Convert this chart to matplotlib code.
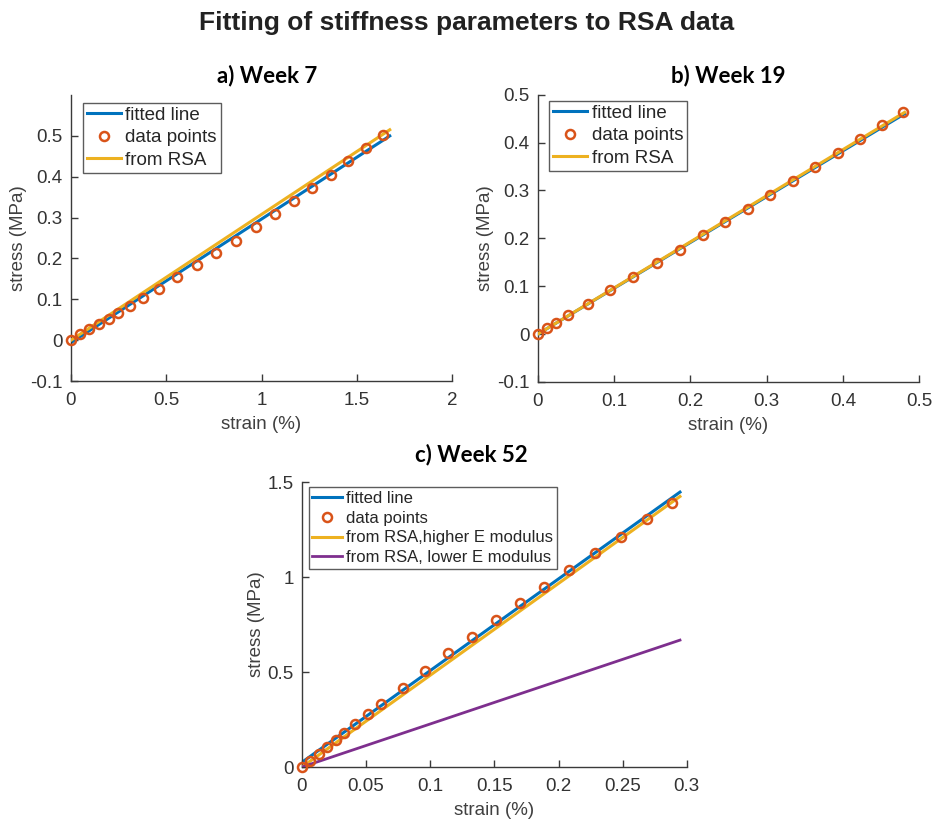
import matplotlib
matplotlib.use('Agg')
import matplotlib.pyplot as plt

# MATLAB default colours
BLUE = '#0072BD'
ORANGE = '#D95319'
YELLOW = '#EDB120'
PURPLE = '#7E2F8E'
AX_GRAY = '#3a3a3a'

# ---- a) Week 7 ----
strain_a = [0, 0.047, 0.096, 0.147, 0.199, 0.245, 0.311, 0.379, 0.462, 0.559,
            0.659, 0.759, 0.865, 0.970, 1.070, 1.170, 1.267, 1.364, 1.456,
            1.549, 1.640]
stress_a = [0, 0.015, 0.028, 0.040, 0.053, 0.066, 0.083, 0.103, 0.125, 0.154,
            0.183, 0.213, 0.244, 0.278, 0.309, 0.341, 0.373, 0.405, 0.438,
            0.470, 0.502]
fit_x_a = [0, 1.673]
fit_y_a = [-0.006, 0.500]
rsa_x_a = [0, 1.673]
rsa_y_a = [0, 0.515]

# ---- b) Week 19 ----
strain_b = [0, 0.0114, 0.024, 0.040, 0.065, 0.095, 0.125, 0.156, 0.186, 0.216,
            0.245, 0.275, 0.304, 0.334, 0.364, 0.393, 0.423, 0.452, 0.479]
stress_b = [0, 0.013, 0.024, 0.039, 0.062, 0.091, 0.119, 0.148, 0.176, 0.206,
            0.233, 0.262, 0.291, 0.320, 0.349, 0.378, 0.407, 0.436, 0.463]
fit_x_b = [0, 0.481]
fit_y_b = [0, 0.460]
rsa_x_b = [0, 0.481]
rsa_y_b = [0, 0.463]

# ---- c) Week 52 ----
strain_c = [0, 0.0062, 0.013, 0.0195, 0.0263, 0.0328, 0.0416, 0.0515, 0.0619,
            0.0786, 0.0962, 0.1142, 0.1327, 0.1509, 0.170, 0.189, 0.2084,
            0.2284, 0.2487, 0.2687, 0.2888]
stress_c = [0, 0.033, 0.067, 0.107, 0.144, 0.177, 0.228, 0.280, 0.333, 0.418,
            0.508, 0.599, 0.683, 0.772, 0.861, 0.950, 1.038, 1.127, 1.213,
            1.304, 1.391]
fit_x_c = [0, 0.2947]
fit_y_c = [0.025, 1.447]
rsa_hi_x_c = [0, 0.2947]
rsa_hi_y_c = [0, 1.424]
rsa_lo_x_c = [0, 0.2947]
rsa_lo_y_c = [0, 0.668]

xticks_a = [0, 0.5, 1, 1.5, 2]
xticklabels_a = ['0', '0.5', '1', '1.5', '2']
xticks_b = [0, 0.1, 0.2, 0.3, 0.4, 0.5]
xticklabels_b = ['0', '0.1', '0.2', '0.3', '0.4', '0.5']
xticks_c = [0, 0.05, 0.1, 0.15, 0.2, 0.25, 0.3]
xticklabels_c = ['0', '0.05', '0.1', '0.15', '0.2', '0.25', '0.3']
yticks_ab = [-0.1, 0, 0.1, 0.2, 0.3, 0.4, 0.5]
yticklabels_ab = ['-0.1', '0', '0.1', '0.2', '0.3', '0.4', '0.5']
yticks_c = [0, 0.5, 1, 1.5]
yticklabels_c = ['0', '0.5', '1', '1.5']

plt.rcParams['font.family'] = ['Liberation Sans', 'DejaVu Sans']
plt.rcParams['axes.unicode_minus'] = False


def style_axes(ax, xticks, xlabels, yticks, ylabels):
    ax.spines['top'].set_visible(False)
    ax.spines['right'].set_visible(False)
    for s in ('left', 'bottom'):
        ax.spines[s].set_color(AX_GRAY)
        ax.spines[s].set_linewidth(1.0)
    ax.set_xticks(xticks)
    ax.set_xticklabels(xlabels)
    ax.set_yticks(yticks)
    ax.set_yticklabels(ylabels)
    ax.tick_params(direction='in', length=5, width=1.0, colors=AX_GRAY,
                   labelsize=13.5, labelcolor='#333333')
    ax.tick_params(axis='x', pad=8)
    ax.tick_params(axis='y', pad=6)
    ax.set_xlabel('strain (%)', fontsize=13.5, color='#404040', labelpad=5)
    ax.set_ylabel('stress (MPa)', fontsize=13.5, color='#404040', labelpad=2)


def add_legend(ax, anchor, size):
    leg = ax.legend(loc='upper left', bbox_to_anchor=anchor, fontsize=size,
                    frameon=True, fancybox=False, edgecolor='#333333',
                    handlelength=1.8, handletextpad=0.25, borderpad=0.22,
                    labelspacing=0.28, borderaxespad=0)
    leg.get_frame().set_linewidth(1.0)
    for t in leg.get_texts():
        t.set_color('#262626')


marker_kw = dict(linestyle='none', marker='o', markersize=6.5,
                 markerfacecolor='none', markeredgecolor=ORANGE,
                 markeredgewidth=1.8, clip_on=False, zorder=4)
title_kw = dict(fontsize=16, fontweight='bold', family=['Lato', 'DejaVu Sans'])

fig = plt.figure(figsize=(9.34, 8.23), dpi=100)
fig.text(0.5, 0.972, 'Fitting of stiffness parameters to RSA data',
         ha='center', va='center', fontsize=19, fontweight='bold',
         color='#222222')

# a)
ax_a = fig.add_axes([0.076, 0.537, 0.408, 0.3475])
ax_a.plot(fit_x_a, fit_y_a, color=BLUE, lw=2.2, label='fitted line', zorder=2)
ax_a.plot(strain_a, stress_a, label='data points', **marker_kw)
ax_a.plot(rsa_x_a, rsa_y_a, color=YELLOW, lw=2.2, label='from RSA', zorder=3)
ax_a.set_xlim(0, 2)
ax_a.set_ylim(-0.1, 0.6)
style_axes(ax_a, xticks_a, xticklabels_a, yticks_ab, yticklabels_ab)
ax_a.set_title('a) Week 7', x=0.515, pad=9, **title_kw)
add_legend(ax_a, (0.031, 0.973), 13.5)

# b)
ax_b = fig.add_axes([0.576, 0.536, 0.408, 0.349])
ax_b.plot(fit_x_b, fit_y_b, color=BLUE, lw=2.2, label='fitted line', zorder=2)
ax_b.plot(strain_b, stress_b, label='data points', **marker_kw)
ax_b.plot(rsa_x_b, rsa_y_b, color=YELLOW, lw=2.2, label='from RSA', zorder=3)
ax_b.set_xlim(0, 0.5)
ax_b.set_ylim(-0.1, 0.5)
style_axes(ax_b, xticks_b, xticklabels_b, yticks_ab, yticklabels_ab)
ax_b.set_title('b) Week 19', pad=9, **title_kw)
add_legend(ax_b, (0.029, 0.979), 13.5)

# c)
ax_c = fig.add_axes([0.3233, 0.068, 0.412, 0.3463])
ax_c.plot(fit_x_c, fit_y_c, color=BLUE, lw=2.2, label='fitted line', zorder=2)
ax_c.plot(strain_c, stress_c, label='data points', **marker_kw)
ax_c.plot(rsa_hi_x_c, rsa_hi_y_c, color=YELLOW, lw=2.2,
          label='from RSA,higher E modulus', zorder=3)
ax_c.plot(rsa_lo_x_c, rsa_lo_y_c, color=PURPLE, lw=2.0,
          label='from RSA, lower E modulus', zorder=3)
ax_c.set_xlim(0, 0.3)
ax_c.set_ylim(0, 1.5)
style_axes(ax_c, xticks_c, xticklabels_c, yticks_c, yticklabels_c)
ax_c.set_title('c) Week 52', x=0.44, pad=15, **title_kw)
add_legend(ax_c, (0.017, 0.981), 12)

fig.savefig('out.png', dpi=100)
